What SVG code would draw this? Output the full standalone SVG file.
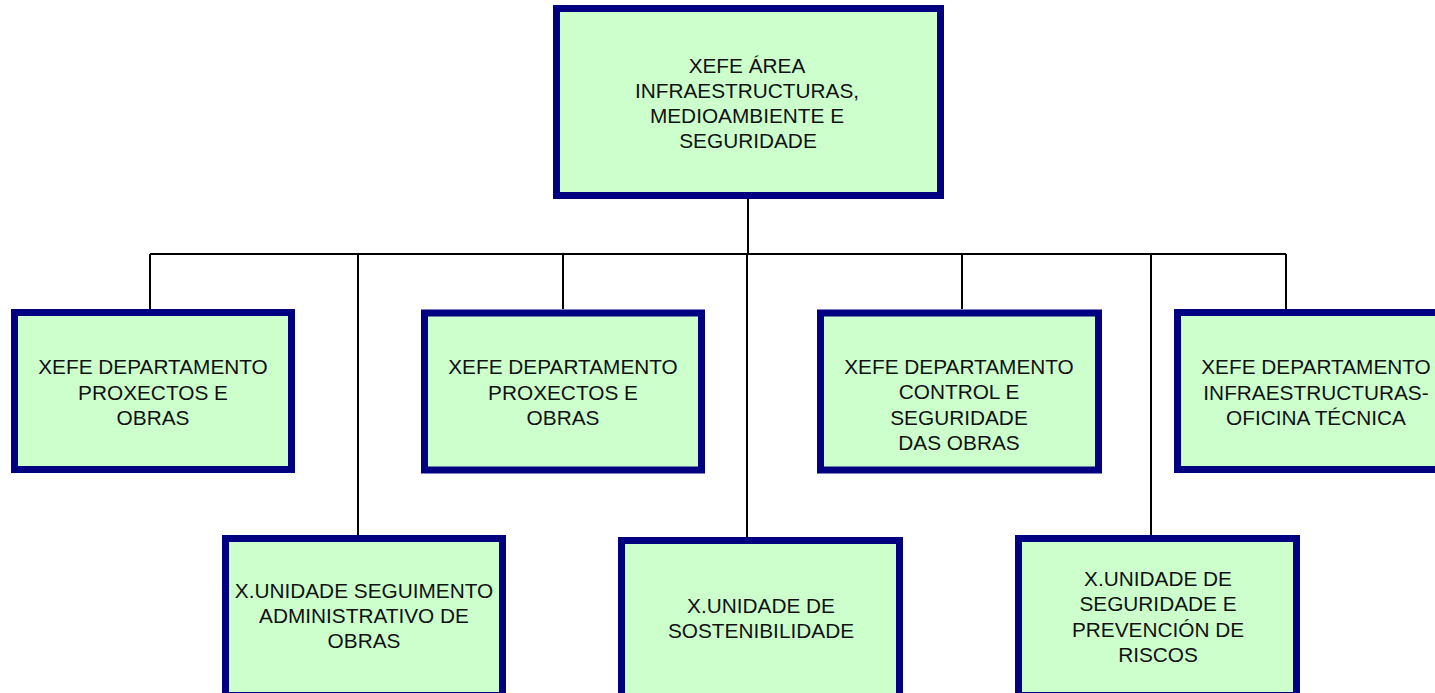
<svg xmlns="http://www.w3.org/2000/svg" width="1435" height="693" viewBox="0 0 1435 693">
<style>
.box{fill:#CCFFCC;stroke:#000080;stroke-width:7}
.t{font-family:"Liberation Sans",Arial,sans-serif;font-size:20.8px;fill:#111;text-anchor:middle}
.c{stroke:#000;stroke-width:2;fill:none}
</style>
<rect width="1435" height="693" fill="#fff"/>
<g id="connectors">
<path class="c" d="M748,199 V254 M150,254 H1286 M150,254 V309 M358,254 V535 M563,254 V309 M747,254 V537 M962,254 V309 M1151,254 V535 M1286,254 V309"/>
</g>
<g id="n0">
<rect class="box" x="556.5" y="8.5" width="384" height="187"/>
<text class="t"><tspan x="747" y="73">XEFE ÁREA</tspan><tspan x="747" y="98">INFRAESTRUCTURAS,</tspan><tspan x="747" y="123">MEDIOAMBIENTE E</tspan><tspan x="748" y="148">SEGURIDADE</tspan></text>
</g>
<g id="n1">
<rect class="box" x="14.5" y="312.5" width="277" height="157"/>
<text class="t"><tspan x="153" y="374">XEFE DEPARTAMENTO</tspan><tspan x="153" y="400">PROXECTOS E</tspan><tspan x="153" y="425">OBRAS</tspan></text>
</g>
<g id="n2">
<rect class="box" x="424.5" y="313" width="277" height="157"/>
<text class="t"><tspan x="563" y="374">XEFE DEPARTAMENTO</tspan><tspan x="563" y="400">PROXECTOS E</tspan><tspan x="563" y="425">OBRAS</tspan></text>
</g>
<g id="n3">
<rect class="box" x="820.5" y="313" width="278" height="157"/>
<text class="t"><tspan x="959" y="374">XEFE DEPARTAMENTO</tspan><tspan x="959" y="399">CONTROL E</tspan><tspan x="959" y="425">SEGURIDADE</tspan><tspan x="959" y="450">DAS OBRAS</tspan></text>
</g>
<g id="n4">
<rect class="box" x="1177.5" y="312.5" width="277" height="157"/>
<text class="t"><tspan x="1316" y="374">XEFE DEPARTAMENTO</tspan><tspan x="1316" y="400">INFRAESTRUCTURAS-</tspan><tspan x="1316" y="425">OFICINA TÉCNICA</tspan></text>
</g>
<g id="n5">
<rect class="box" x="225.5" y="538.5" width="277" height="157"/>
<text class="t"><tspan x="364" y="598">X.UNIDADE SEGUIMENTO</tspan><tspan x="364" y="623">ADMINISTRATIVO DE</tspan><tspan x="364" y="648">OBRAS</tspan></text>
</g>
<g id="n6">
<rect class="box" x="621.5" y="540.5" width="278" height="157"/>
<text class="t"><tspan x="761" y="613">X.UNIDADE DE</tspan><tspan x="761" y="638">SOSTENIBILIDADE</tspan></text>
</g>
<g id="n7">
<rect class="box" x="1018.5" y="538.5" width="278" height="157"/>
<text class="t"><tspan x="1158" y="586">X.UNIDADE DE</tspan><tspan x="1158" y="611">SEGURIDADE E</tspan><tspan x="1158" y="637">PREVENCIÓN DE</tspan><tspan x="1158" y="662">RISCOS</tspan></text>
</g>
</svg>
